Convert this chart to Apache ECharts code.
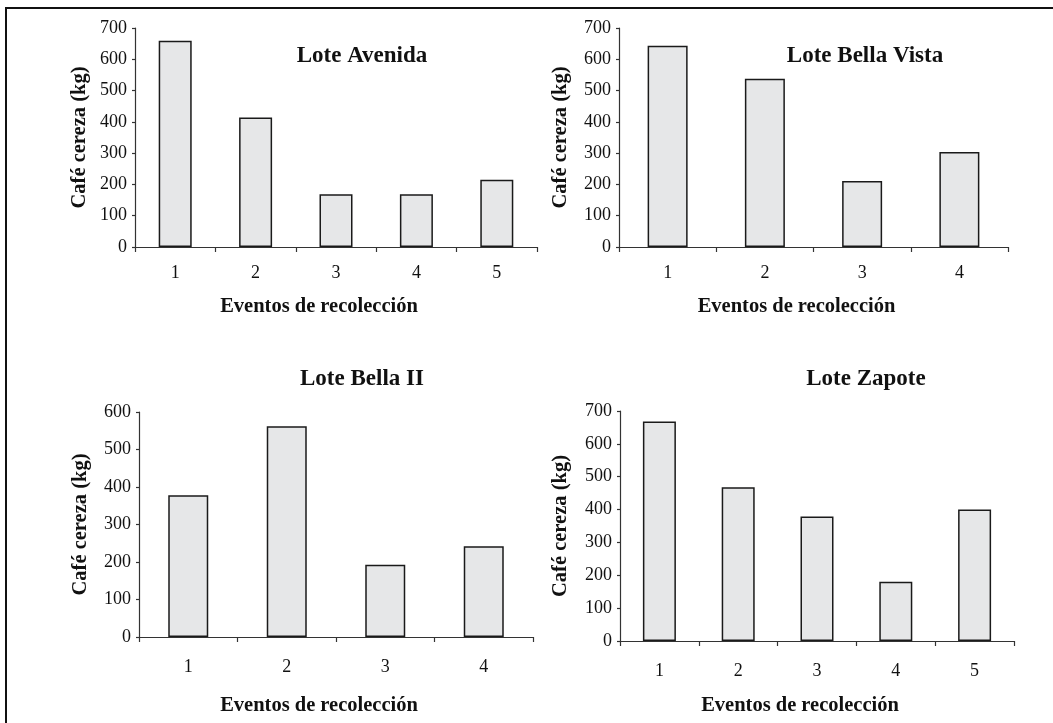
<!DOCTYPE html>
<html>
<head>
<meta charset="utf-8">
<script src="https://cdn.jsdelivr.net/npm/echarts@6/dist/echarts.min.js"></script>
<style>
html,body{margin:0;padding:0;background:#fff;}
#chart{width:1053px;height:723px;}
</style>
</head>
<body>
<div id="chart"></div>
<script>
// ---- data ----
const titles = ["Lote Avenida", "Lote Bella Vista", "Lote Bella II", "Lote Zapote"];
const catsAvenida = ["1", "2", "3", "4", "5"];
const valsAvenida = [659, 414, 169, 169, 215];
const catsBellaVista = ["1", "2", "3", "4"];
const valsBellaVista = [643, 538, 211, 304];
const catsBellaII = ["1", "2", "3", "4"];
const valsBellaII = [378, 562, 193, 242];
const catsZapote = ["1", "2", "3", "4", "5"];
const valsZapote = [668, 468, 379, 180, 400];
const yMaxes = [700, 700, 600, 700];
const yName = "Café cereza (kg)";
const xName = "Eventos de recolección";

// ---- layout ----
const FONT = '"Liberation Serif", "Times New Roman", serif';
const grids = [
  {left: 135, top: 28, width: 402, height: 219},
  {left: 619, top: 28, width: 389, height: 219},
  {left: 139, top: 412, width: 394, height: 225},
  {left: 620, top: 411, width: 394, height: 230}
];
const barWidths = [33, 40, 40, 33];
const titlePos = [[362, 57], [865, 57], [362, 380], [866, 380]];
const xNameGaps = [49, 49, 58, 54];
const xLabelMargins = [17, 17, 21, 21];
const yNameGaps = [45, 48, 48, 49];
const cats = [catsAvenida, catsBellaVista, catsBellaII, catsZapote];
const vals = [valsAvenida, valsBellaVista, valsBellaII, valsZapote];

const axisColor = '#333';

const option = {
  backgroundColor: '#fff',
  animation: false,
  title: titles.map((t, i) => ({
    text: t,
    left: titlePos[i][0],
    top: titlePos[i][1] - 12,
    textAlign: 'center',
    padding: 0,
    textStyle: {fontFamily: FONT, fontWeight: 'bold', fontSize: 23, color: '#111'}
  })),
  grid: grids.map(g => Object.assign({containLabel: false}, g)),
  xAxis: cats.map((c, i) => ({
    type: 'category',
    gridIndex: i,
    data: c,
    name: xName,
    nameLocation: 'middle',
    nameGap: xNameGaps[i],
    nameTextStyle: {fontFamily: FONT, fontWeight: 'bold', fontSize: 20.5, color: '#111', padding: [0, 34, 0, 0]},
    axisLine: {lineStyle: {color: axisColor, width: 1.2}},
    axisTick: {show: true, length: 5, lineStyle: {color: axisColor, width: 1.2}},
    axisLabel: {fontFamily: FONT, fontSize: 18, color: '#111', margin: xLabelMargins[i]},
    splitLine: {show: false}
  })),
  yAxis: yMaxes.map((m, i) => ({
    type: 'value',
    gridIndex: i,
    min: 0,
    max: m,
    interval: 100,
    name: yName,
    nameLocation: 'middle',
    nameGap: yNameGaps[i],
    nameTextStyle: {fontFamily: FONT, fontWeight: 'bold', fontSize: 20.5, color: '#111'},
    axisLine: {show: true, lineStyle: {color: axisColor, width: 1.2}},
    axisTick: {show: true, length: 3, lineStyle: {color: axisColor, width: 1.2}},
    axisLabel: {fontFamily: FONT, fontSize: 18, color: '#111', margin: 8},
    splitLine: {show: false}
  })),
  series: vals.map((v, i) => ({
    type: 'bar',
    xAxisIndex: i,
    yAxisIndex: i,
    data: v,
    barWidth: barWidths[i],
    itemStyle: {color: '#e6e7e8', borderColor: '#1a1a1a', borderWidth: 1.5}
  })),
  graphic: [{
    type: 'rect',
    shape: {x: 6, y: 8, width: 1100, height: 800},
    style: {fill: 'none', stroke: '#111', lineWidth: 2},
    silent: true
  }]
};

const chart = echarts.init(document.getElementById('chart'), null, {renderer: 'canvas'});
chart.setOption(option);
</script>
</body>
</html>
